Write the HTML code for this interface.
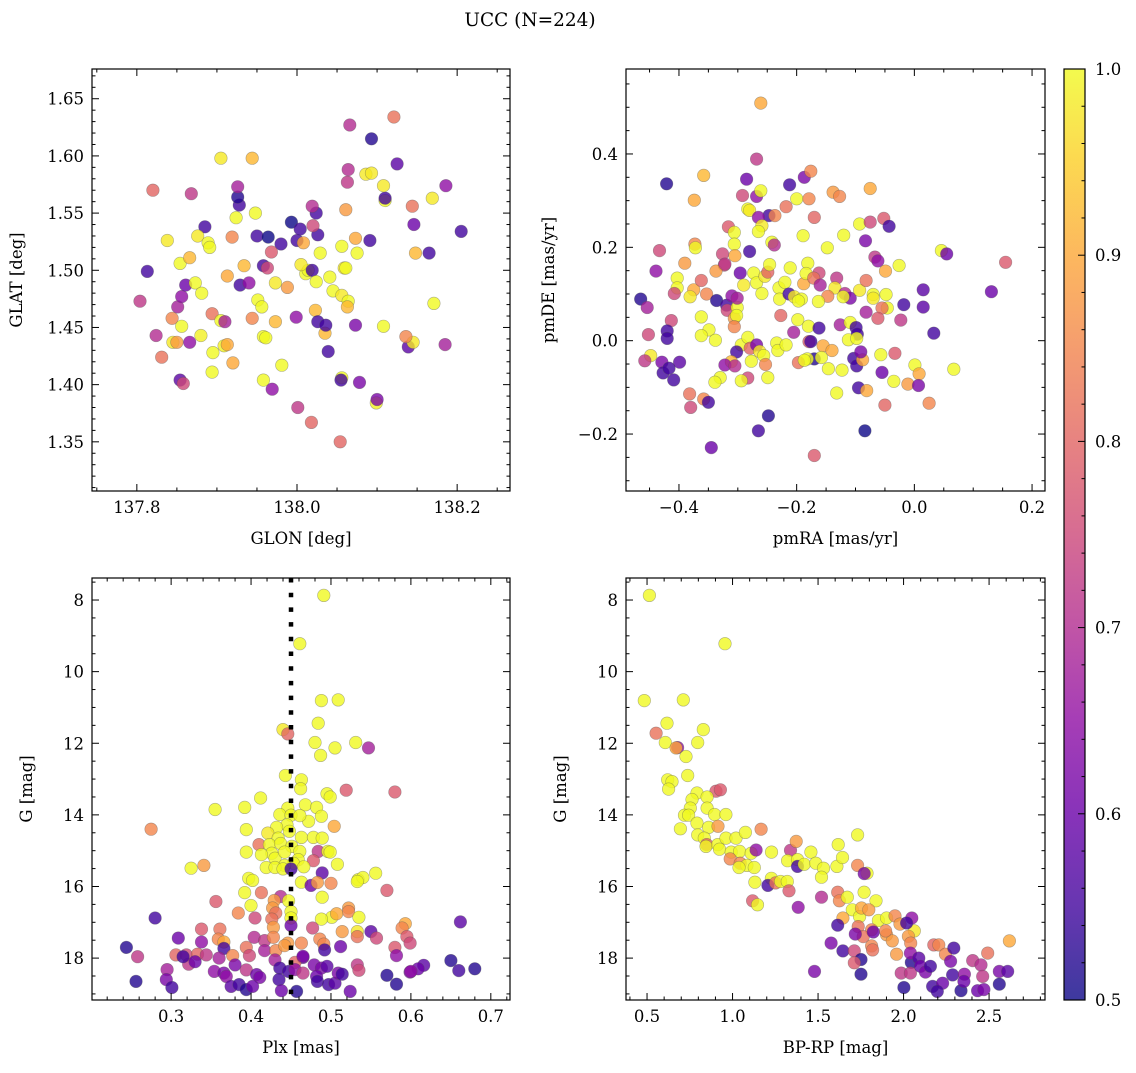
<!DOCTYPE html>
<html><head><meta charset="utf-8"><style>
html,body{margin:0;padding:0;background:#fff}
svg text{font-family:"DejaVu Serif","Liberation Serif",serif;fill:#000}
</style></head><body>
<svg id="fig" width="1136" height="1068" viewBox="0 0 1136 1068" xmlns="http://www.w3.org/2000/svg">
<defs><linearGradient id="plasma" x1="0" y1="1" x2="0" y2="0">
<stop offset="0" stop-color="#0d0887"/><stop offset="0.1" stop-color="#41049d"/><stop offset="0.2" stop-color="#6a00a8"/><stop offset="0.3" stop-color="#8f0da4"/><stop offset="0.4" stop-color="#b12a90"/><stop offset="0.5" stop-color="#cc4778"/><stop offset="0.6" stop-color="#e16462"/><stop offset="0.7" stop-color="#f2844b"/><stop offset="0.8" stop-color="#fca636"/><stop offset="0.9" stop-color="#fcce25"/><stop offset="1" stop-color="#f0f921"/></linearGradient></defs>
<text x="530" y="26" font-size="18.5" text-anchor="middle">UCC (N=224)</text>
</svg>
<script>
const glon=[137.804,137.813,137.820,137.824,137.831,137.838,137.844,137.845,137.850,137.854,137.858,137.851,137.856,137.854,137.856,137.861,137.868,137.866,137.873,137.866,137.885,137.876,137.889,137.881,137.880,137.894,137.895,137.891,137.894,137.905,137.905,137.910,137.909,137.913,137.913,137.919,137.920,137.924,137.928,137.926,137.926,137.934,137.929,137.948,137.940,137.944,137.944,137.950,137.958,137.951,137.956,137.958,137.964,137.963,137.973,137.958,137.969,137.980,137.968,137.973,137.961,137.981,138.000,137.988,137.993,138.004,138.011,138.014,138.005,138.008,138.026,138.020,137.999,138.023,138.001,138.026,138.019,138.024,138.024,138.019,138.029,138.041,138.018,138.035,138.036,138.039,138.045,138.061,138.056,138.059,138.054,138.056,138.055,138.056,138.064,138.063,138.064,138.063,138.066,138.073,138.061,138.073,138.078,138.075,138.091,138.086,138.099,138.093,138.110,138.100,138.110,138.108,138.093,138.108,138.125,138.139,138.145,138.136,138.144,138.121,138.148,138.165,138.146,138.169,138.171,138.186,138.185,138.205];
const glat=[1.473,1.499,1.570,1.443,1.424,1.526,1.458,1.437,1.437,1.404,1.401,1.468,1.477,1.506,1.451,1.487,1.567,1.511,1.489,1.437,1.538,1.530,1.524,1.480,1.443,1.411,1.428,1.520,1.462,1.598,1.456,1.455,1.434,1.435,1.495,1.529,1.419,1.546,1.557,1.564,1.573,1.504,1.487,1.550,1.489,1.458,1.598,1.530,1.504,1.474,1.468,1.404,1.529,1.502,1.489,1.442,1.396,1.523,1.516,1.455,1.441,1.417,1.526,1.485,1.542,1.536,1.497,1.500,1.505,1.524,1.531,1.539,1.459,1.465,1.380,1.455,1.500,1.550,1.490,1.556,1.515,1.494,1.367,1.445,1.452,1.429,1.482,1.553,1.521,1.502,1.350,1.406,1.404,1.478,1.473,1.577,1.588,1.468,1.627,1.528,1.502,1.452,1.402,1.515,1.526,1.584,1.384,1.585,1.561,1.387,1.563,1.574,1.615,1.451,1.593,1.433,1.437,1.442,1.556,1.634,1.515,1.515,1.540,1.563,1.471,1.574,1.435,1.534];
const prob1=[.72,.55,.8,.7,.82,.95,.85,.95,.88,.58,.75,.68,.65,.97,1,.6,.72,.92,.98,.65,.55,.95,1,.98,.96,.97,1,.98,.82,.95,.97,.68,.96,.9,.9,.85,.9,.97,.55,.52,.68,.92,.55,.98,.65,.85,.92,.55,.55,.97,.98,1,.5,.75,.95,1,.65,.55,.78,.92,.97,1,.55,.88,.5,.55,1,.97,.95,.9,.55,.75,.65,.92,.72,.55,.55,.55,.98,.7,.98,.97,.8,.92,.55,.55,1,.88,.97,.95,.8,.98,.55,.95,1,.72,.7,.92,.7,.9,1,.62,.62,.97,.55,.95,.96,.95,1,.62,.55,.95,.52,.97,.58,.58,.95,.85,.82,.82,.92,.55,.6,.95,.97,.65,.68,.55];

const pmra=[-0.261,-0.268,-0.421,-0.358,-0.374,-0.285,-0.292,-0.268,-0.261,-0.212,-0.187,-0.176,-0.2,-0.179,-0.218,-0.283,-0.280,-0.138,-0.127,-0.075,-0.170,-0.247,-0.237,-0.265,-0.259,-0.316,-0.306,-0.265,-0.306,-0.280,-0.305,-0.326,-0.323,-0.373,-0.372,-0.242,-0.238,-0.189,-0.148,-0.120,-0.093,-0.075,-0.052,-0.043,-0.083,-0.067,-0.062,-0.049,-0.026,0.046,0.055,0.155,0.131,0.015,0.015,-0.018,0.033,-0.433,-0.439,-0.390,-0.403,-0.403,-0.408,-0.465,-0.454,-0.413,-0.420,-0.420,-0.452,-0.448,-0.458,-0.429,-0.399,-0.427,-0.417,-0.409,-0.382,-0.380,-0.358,-0.350,-0.345,-0.375,-0.381,-0.362,-0.353,-0.337,-0.322,-0.362,-0.349,-0.362,-0.338,-0.336,-0.319,-0.318,-0.306,-0.301,-0.310,-0.301,-0.296,-0.290,-0.273,-0.268,-0.254,-0.249,-0.259,-0.246,-0.230,-0.220,-0.229,-0.213,-0.204,-0.211,-0.188,-0.181,-0.184,-0.162,-0.171,-0.192,-0.197,-0.160,-0.132,-0.135,-0.147,-0.163,-0.118,-0.109,-0.121,-0.093,-0.082,-0.070,-0.070,-0.048,-0.046,-0.055,-0.082,-0.062,-0.023,-0.227,-0.198,-0.205,-0.180,-0.162,-0.126,-0.109,-0.099,-0.097,-0.112,-0.098,-0.302,-0.306,-0.294,-0.283,-0.302,-0.279,-0.268,-0.263,-0.256,-0.253,-0.277,-0.311,-0.322,-0.305,-0.283,-0.294,-0.330,-0.339,-0.249,-0.234,-0.232,-0.218,-0.179,-0.176,-0.170,-0.182,-0.197,-0.187,-0.155,-0.140,-0.158,-0.146,-0.123,-0.132,-0.248,-0.265,-0.170,-0.103,-0.098,-0.088,-0.091,-0.057,-0.033,-0.055,-0.035,-0.095,-0.081,-0.050,-0.084,0.001,0.008,-0.011,0.007,0.025,0.067];
const pmde=[0.509,0.389,0.336,0.354,0.301,0.346,0.311,0.309,0.321,0.334,0.350,0.363,0.304,0.304,0.287,0.282,0.279,0.318,0.309,0.326,0.264,0.268,0.268,0.264,0.246,0.244,0.232,0.234,0.207,0.191,0.182,0.186,0.162,0.207,0.199,0.211,0.205,0.225,0.199,0.226,0.250,0.254,0.262,0.245,0.214,0.179,0.171,0.149,0.161,0.193,0.186,0.168,0.105,0.109,0.072,0.077,0.016,0.193,0.149,0.166,0.134,0.113,0.101,0.089,0.071,0.043,0.021,0.005,0.013,-0.032,-0.043,-0.046,-0.046,-0.069,-0.059,-0.084,-0.114,-0.143,-0.125,-0.132,-0.229,0.109,0.094,0.129,0.100,0.149,0.164,0.051,0.023,0.011,0.001,0.086,0.076,0.065,0.048,0.071,0.096,0.091,0.145,0.119,0.145,0.124,0.138,0.147,0.101,0.163,0.113,0.125,0.089,0.100,0.094,0.156,0.122,0.166,0.144,0.145,0.134,0.089,0.085,0.119,0.134,0.113,0.095,0.084,0.101,0.091,0.094,0.108,0.129,0.099,0.091,0.099,0.070,0.070,0.061,0.048,0.044,0.054,0.045,0.018,0.031,0.027,0.034,0.039,0.028,0.014,0.002,0.005,0.054,0.030,-0.009,0.007,-0.024,-0.016,-0.009,-0.023,-0.032,-0.051,-0.044,-0.045,-0.052,-0.054,-0.080,-0.086,-0.079,-0.089,-0.079,-0.005,-0.021,-0.009,-0.002,-0.002,-0.039,-0.039,-0.047,-0.042,-0.011,-0.021,-0.036,-0.060,-0.063,-0.112,-0.161,-0.193,-0.246,-0.038,-0.054,-0.041,-0.024,-0.030,-0.027,-0.068,-0.087,-0.101,-0.107,-0.138,-0.193,-0.052,-0.071,-0.093,-0.096,-0.134,-0.061];
const prob2=[.9,.72,.52,.92,.9,.6,.75,.65,.98,.55,.62,.85,.98,.85,.82,.98,.95,.88,.85,.9,.8,.55,.85,.65,.95,.78,.98,.97,.98,.55,.9,.75,.75,.85,.97,.97,.7,.97,.97,.97,.97,.75,.78,.55,.62,.72,.65,.9,.97,.97,.6,.78,.6,.58,.58,.55,.55,.75,.65,.88,.98,.97,.75,.52,.68,.75,.55,.55,.75,.95,.72,.62,.58,.55,.55,.55,.82,.75,.85,.55,.6,.9,.95,.8,.85,.88,.72,.97,.97,.97,.97,.52,.55,.75,.88,.98,.65,.68,.6,.95,.97,.97,.95,.8,.97,.97,.97,.97,.97,.55,.95,.97,.9,.97,.97,.75,.82,.97,.97,.68,.72,.95,.85,.97,.7,.62,.97,.95,.82,.97,.95,.97,.97,.82,.68,.78,.72,.8,.97,.68,.97,.55,.68,.97,.55,.55,.97,.97,.98,.85,.97,.97,.55,.8,.62,.95,.97,.85,.97,.92,.65,.7,.75,.97,.97,.97,.97,.97,.97,.97,.78,.55,.52,.97,.82,.97,.9,.9,.97,.97,.97,.97,.52,.55,.78,.55,.55,.9,.62,.97,.78,.6,.97,.55,.9,.8,.5,.97,.9,.88,.62,.85,.97];

const plx=[0.491,0.461,0.488,0.509,0.484,0.440,0.446,0.480,0.505,0.531,0.547,0.487,0.443,0.463,0.462,0.519,0.580,0.495,0.499,0.412,0.355,0.392,0.446,0.468,0.482,0.488,0.472,0.436,0.450,0.461,0.445,0.432,0.421,0.434,0.448,0.463,0.478,0.489,0.504,0.394,0.275,0.410,0.423,0.437,0.451,0.426,0.413,0.430,0.442,0.461,0.459,0.394,0.484,0.496,0.499,0.478,0.453,0.442,0.419,0.430,0.440,0.450,0.466,0.508,0.325,0.341,0.489,0.534,0.540,0.556,0.533,0.397,0.402,0.463,0.475,0.483,0.500,0.570,0.392,0.413,0.356,0.400,0.437,0.429,0.447,0.489,0.384,0.427,0.431,0.450,0.450,0.405,0.426,0.522,0.522,0.535,0.501,0.507,0.488,0.280,0.662,0.593,0.589,0.338,0.361,0.428,0.450,0.477,0.514,0.533,0.550,0.557,0.533,0.595,0.599,0.309,0.338,0.359,0.366,0.404,0.417,0.428,0.446,0.463,0.486,0.491,0.492,0.512,0.580,0.582,0.244,0.258,0.306,0.319,0.333,0.344,0.366,0.377,0.394,0.398,0.417,0.431,0.442,0.465,0.455,0.430,0.360,0.322,0.330,0.315,0.650,0.660,0.680,0.616,0.609,0.599,0.600,0.570,0.582,0.533,0.535,0.295,0.294,0.301,0.256,0.354,0.366,0.369,0.380,0.394,0.407,0.411,0.375,0.385,0.394,0.402,0.436,0.447,0.455,0.435,0.438,0.457,0.465,0.465,0.479,0.488,0.495,0.482,0.483,0.497,0.505,0.509,0.514,0.524];
const gmag3=[7.87,9.22,10.81,10.79,11.44,11.62,11.74,11.98,12.13,11.98,12.13,12.34,12.90,13.02,13.27,13.31,13.36,13.41,13.50,13.53,13.85,13.79,13.81,13.72,13.79,14.04,14.18,13.99,14.01,14.02,14.28,14.35,14.51,14.65,14.46,14.63,14.63,14.65,14.32,14.41,14.40,14.83,14.83,14.80,14.88,15.07,15.11,15.21,15.04,15.02,15.25,15.04,15.02,15.02,15.04,15.28,15.35,15.41,15.47,15.47,15.51,15.51,15.45,15.38,15.49,15.41,15.62,15.81,15.75,15.63,15.86,15.77,15.83,15.88,15.97,15.89,15.91,16.11,16.17,16.17,16.42,16.53,16.28,16.39,16.40,16.30,16.74,16.60,16.74,16.70,16.88,16.88,16.91,16.60,16.70,16.86,16.86,16.76,16.91,16.88,16.99,17.04,17.16,17.19,17.19,17.14,17.09,17.16,17.26,17.26,17.26,17.44,17.40,17.40,17.58,17.44,17.55,17.47,17.55,17.42,17.51,17.42,17.58,17.58,17.47,17.61,17.77,17.68,17.70,17.93,17.70,17.96,17.91,17.91,17.89,17.91,17.73,17.93,17.70,17.93,17.79,17.79,17.65,17.98,18.12,18.05,18.00,18.17,18.10,17.96,18.07,18.35,18.30,18.20,18.30,18.39,18.37,18.48,18.73,18.19,18.34,18.32,18.60,18.82,18.65,18.37,18.42,18.51,18.19,18.33,18.46,18.54,18.79,18.74,18.88,18.79,18.28,18.37,18.32,18.60,18.91,18.93,18.42,17.95,18.19,18.28,18.23,18.51,18.65,18.74,18.70,18.42,18.45,18.93];
const prob3=[.97,.97,.97,.97,.97,.95,.8,.97,.97,.97,.68,.97,.97,.97,.97,.78,.78,.97,.97,.97,.97,.97,.97,.97,.97,.97,.97,.97,.97,.97,.97,.97,.95,.97,.97,.97,.97,.97,.9,.97,.85,.82,.97,.97,.97,.97,.97,.97,.97,.97,.97,.97,.72,.97,.97,.78,.97,.97,.97,.97,.97,.55,.97,.97,.97,.88,.58,.97,.97,.97,.97,.97,.97,.97,.6,.88,.85,.78,.97,.82,.78,.97,.7,.88,.97,.97,.85,.88,.82,.97,.97,.75,.82,.88,.85,.97,.97,.9,.97,.55,.58,.9,.85,.78,.82,.88,.6,.75,.88,.95,.58,.75,.82,.78,.75,.6,.65,.85,.9,.7,.72,.85,.88,.85,.85,.85,.55,.6,.78,.65,.52,.72,.8,.75,.8,.72,.55,.85,.82,.75,.68,.85,.88,.6,.8,.68,.68,.72,.6,.55,.52,.55,.52,.58,.6,.62,.65,.52,.52,.72,.75,.68,.62,.55,.52,.65,.62,.65,.62,.72,.6,.62,.58,.55,.52,.6,.55,.55,.65,.55,.6,.52,.72,.62,.62,.62,.58,.6,.55,.55,.58,.62,.55,.6];

const bprp=[0.514,0.956,0.484,0.712,0.617,0.553,0.829,0.607,0.679,0.670,0.796,0.728,0.738,0.621,0.646,0.626,0.903,0.929,0.792,0.851,0.763,0.753,0.851,0.719,0.743,0.895,0.961,0.792,0.860,0.915,0.695,0.796,0.835,0.849,0.845,0.913,0.962,1.020,1.075,1.167,0.924,0.992,1.041,1.109,1.138,0.986,1.045,1.084,1.127,1.038,1.228,1.339,1.372,1.322,1.380,1.380,1.419,1.458,1.487,1.532,1.520,1.610,1.618,1.643,1.731,1.731,1.786,1.770,1.131,1.227,1.207,1.252,1.281,1.320,1.330,1.117,1.146,1.384,1.520,1.615,1.625,1.671,1.769,1.839,1.700,1.743,1.754,1.797,1.645,1.853,1.901,1.950,2.048,1.979,2.063,1.735,1.813,1.764,1.813,1.819,1.901,1.934,1.959,2.028,2.042,2.018,1.895,1.615,1.576,1.645,1.718,1.823,1.712,1.751,1.712,1.751,1.479,1.986,2.002,2.045,2.040,2.089,2.040,2.099,2.128,2.157,2.177,2.206,2.245,2.294,2.275,2.170,2.228,2.287,2.336,2.356,2.404,2.453,2.492,2.463,2.560,2.609,2.560,2.433,2.619,2.470,2.353,2.197];
const gmag4=[7.87,9.22,10.81,10.79,11.44,11.72,11.62,11.98,12.12,12.13,11.98,12.37,12.90,13.02,13.07,13.28,13.34,13.30,13.39,13.50,13.57,13.81,13.81,14.01,14.01,13.99,13.99,14.23,14.35,14.32,14.39,14.56,14.65,14.83,14.88,14.83,14.65,14.65,14.49,14.40,14.96,15.04,15.02,15.07,14.98,15.23,15.35,15.41,15.47,15.47,15.04,14.99,14.74,15.28,15.25,15.44,15.38,15.04,15.35,15.49,15.74,15.44,14.83,15.19,14.56,15.41,15.63,15.64,15.88,15.77,15.97,15.90,15.86,15.86,16.12,16.40,16.51,16.58,16.30,16.16,16.40,16.30,16.16,16.40,16.65,16.84,16.60,16.65,16.88,16.95,16.88,16.82,16.88,17.05,17.24,17.12,17.21,17.40,17.66,17.77,17.35,17.52,17.89,17.39,17.58,17.02,17.24,17.08,17.58,17.80,17.33,17.27,17.80,18.04,18.13,18.45,18.37,18.42,18.82,18.12,17.86,18.00,18.42,18.23,18.39,18.23,17.63,17.63,17.89,17.72,18.09,18.79,18.70,18.47,18.91,18.45,18.07,18.19,17.86,18.51,18.37,18.37,18.73,18.91,17.52,18.88,18.65,18.93];
const prob4=[.97,.97,.97,.97,.97,.82,.97,.97,.65,.9,.97,.97,.97,.97,.97,.97,.78,.78,.97,.97,.97,.97,.97,.97,.97,.97,.97,.97,.97,.88,.97,.97,.97,.8,.97,.97,.97,.97,.97,.85,.97,.97,.97,.97,.65,.85,.85,.97,.97,.97,.97,.72,.88,.97,.97,.55,.97,.97,.97,.97,.97,.97,.97,.97,.97,.85,.97,.62,.97,.97,.55,.82,.97,.97,.78,.78,.97,.65,.7,.82,.85,.97,.97,.97,.97,.97,.9,.88,.9,.97,.97,.85,.65,.88,.95,.82,.85,.82,.85,.82,.88,.88,.88,.88,.85,.55,.85,.55,.62,.55,.62,.6,.75,.52,.78,.52,.62,.72,.52,.52,.65,.58,.72,.6,.62,.55,.8,.85,.85,.55,.62,.55,.6,.55,.52,.65,.72,.7,.82,.72,.62,.58,.52,.6,.9,.62,.6,.55];

const cbTicks=[0.5,0.6,0.7,0.8,0.9,1.0];
const NS='http://www.w3.org/2000/svg';
const svg=document.getElementById('fig');
const stops=[[13,8,135],[65,4,157],[106,0,168],[143,13,164],[177,42,144],[204,71,120],[225,100,98],[242,132,75],[252,166,54],[252,206,37],[240,249,33]];
function plasma(p){if(p>=0.95)p=Math.min(1,p+0.03);let t=Math.max(0,Math.min(1,(p-0.5)/0.5))*10;let i=Math.min(9,Math.floor(t)),f=t-i;const a=stops[i],b=stops[i+1];return 'rgb('+a.map((v,k)=>Math.round(v+(b[k]-v)*f)).join(',')+')';}
function el(tag,attrs,parent){const e=document.createElementNS(NS,tag);for(const k in attrs)e.setAttribute(k,attrs[k]);(parent||svg).appendChild(e);return e;}

function panel(o){
  const g=el('g',{});
  
  
  const sx=v=>o.x0+(v-o.xmin)/(o.xmax-o.xmin)*(o.x1-o.x0);
  const sy=o.inv?(v=>o.y0+(v-o.ymin)/(o.ymax-o.ymin)*(o.y1-o.y0)):(v=>o.y1-(v-o.ymin)/(o.ymax-o.ymin)*(o.y1-o.y0));
  for(let i=0;i<o.xs.length;i++){
    const c=el('circle',{cx:sx(o.xs[i]).toFixed(1),cy:sy(o.ys[i]).toFixed(1),r:6.3,fill:plasma(o.ps[i]),'fill-opacity':0.8,stroke:'#555','stroke-opacity':0.45,'stroke-width':0.6},g);
    
    
  }
  if(o.vline!==undefined){
    const l=el('line',{x1:sx(o.vline),x2:sx(o.vline),y1:o.y0,y2:o.y1,stroke:'#000','stroke-width':4.5,'stroke-dasharray':'4.5 10.2'},g);
    
    
  }
  const fr=el('rect',{x:o.x0,y:o.y0,width:o.x1-o.x0,height:o.y1-o.y0,fill:'none',stroke:'#000','stroke-width':1.2},g);
  
  
  const eps=1e-9;
  for(let v=Math.ceil(o.xmin/o.xminor-eps)*o.xminor;v<=o.xmax+eps;v+=o.xminor){
    if(v<o.xmin)continue;
    const X=sx(v);const maj=Math.abs(v/o.xmaj-Math.round(v/o.xmaj))<1e-6;const L=maj?7:3.5;
    el('line',{x1:X,x2:X,y1:o.y1,y2:o.y1-L,stroke:'#000','stroke-width':1},g);
    el('line',{x1:X,x2:X,y1:o.y0,y2:o.y0+L,stroke:'#000','stroke-width':1},g);
    if(maj){const t=el('text',{x:X,y:o.y1+22,'font-size':16.5,'text-anchor':'middle'},g);t.textContent=(Math.abs(v)<1e-9?0:v).toFixed(o.xdec).replace('-','\u2212');
      }
  }
  for(let v=Math.ceil(o.ymin/o.yminor)*o.yminor;v<=o.ymax+eps;v+=o.yminor){
    const Y=sy(v);const maj=Math.abs(v/o.ymaj-Math.round(v/o.ymaj))<1e-6;const L=maj?7:3.5;
    el('line',{x1:o.x0,x2:o.x0+L,y1:Y,y2:Y,stroke:'#000','stroke-width':1},g);
    el('line',{x1:o.x1,x2:o.x1-L,y1:Y,y2:Y,stroke:'#000','stroke-width':1},g);
    if(maj){const t=el('text',{x:o.x0-8,y:Y+6,'font-size':16.5,'text-anchor':'end'},g);t.textContent=(Math.abs(v)<1e-9?0:v).toFixed(o.ydec).replace('-','\u2212');
      }
  }
  const xl=el('text',{x:(o.x0+o.x1)/2,y:o.y1+53,'font-size':16.5,'text-anchor':'middle'},g);xl.textContent=o.xlabel;
  
  const yx=o.x0-o.ylabOff, yy=(o.y0+o.y1)/2;
  const yl=el('text',{x:yx,y:yy,'font-size':16.5,'text-anchor':'middle',transform:'rotate(-90 '+yx+' '+yy+')'},g);yl.textContent=o.ylabel;
  
}

panel({name:'glon-glat-panel',xs:glon,ys:glat,ps:prob1,x0:92,x1:510,y0:69,y1:491,xmin:137.744,xmax:138.266,ymin:1.307,ymax:1.676,xmaj:0.2,xminor:0.05,ymaj:0.05,yminor:0.01,xdec:1,ydec:2,xlabel:'GLON [deg]',ylabel:'GLAT [deg]',ylabOff:70});
panel({name:'pmra-pmde-panel',xs:pmra,ys:pmde,ps:prob2,x0:626,x1:1045,y0:69,y1:491,xmin:-0.490,xmax:0.222,ymin:-0.322,ymax:0.582,xmaj:0.2,xminor:0.05,ymaj:0.2,yminor:0.05,xdec:1,ydec:1,xlabel:'pmRA [mas/yr]',ylabel:'pmDE [mas/yr]',ylabOff:72});
panel({name:'plx-g-panel',xs:plx,ys:gmag3,ps:prob3,x0:92,x1:510,y0:578,y1:1000,xmin:0.201,xmax:0.724,ymin:7.385,ymax:19.17,inv:true,xmaj:0.1,xminor:0.02,ymaj:2,yminor:0.5,xdec:1,ydec:0,xlabel:'Plx [mas]',ylabel:'G [mag]',ylabOff:60,vline:0.450});
panel({name:'bprp-g-panel',xs:bprp,ys:gmag4,ps:prob4,x0:626,x1:1045,y0:578,y1:1000,xmin:0.377,xmax:2.827,ymin:7.385,ymax:19.17,inv:true,xmaj:0.5,xminor:0.1,ymaj:2,yminor:0.5,xdec:1,ydec:0,xlabel:'BP-RP [mag]',ylabel:'G [mag]',ylabOff:60});

const cb=el('g',{});


const cbx0=1064,cbx1=1085,cby0=69,cby1=1000;
el('rect',{x:cbx0,y:cby0,width:cbx1-cbx0,height:cby1-cby0,fill:'url(#plasma)','fill-opacity':0.8},cb);
el('rect',{x:cbx0,y:cby0,width:cbx1-cbx0,height:cby1-cby0,fill:'none',stroke:'#000','stroke-width':1.2},cb);
const cy=v=>cby1-(v-0.5)/0.5*(cby1-cby0);
for(let v=0.5;v<=1.0001;v+=0.02){const Y=cy(v);const maj=Math.abs(v*10-Math.round(v*10))<1e-6;
  el('line',{x1:cbx1,x2:cbx1-(maj?7:3.5),y1:Y,y2:Y,stroke:'#000','stroke-width':1},cb);}
cbTicks.forEach(v=>{const t=el('text',{x:cbx1+10,y:cy(v)+6,'font-size':16.5},cb);t.textContent=v.toFixed(1);
  });
</script>
</body></html>
